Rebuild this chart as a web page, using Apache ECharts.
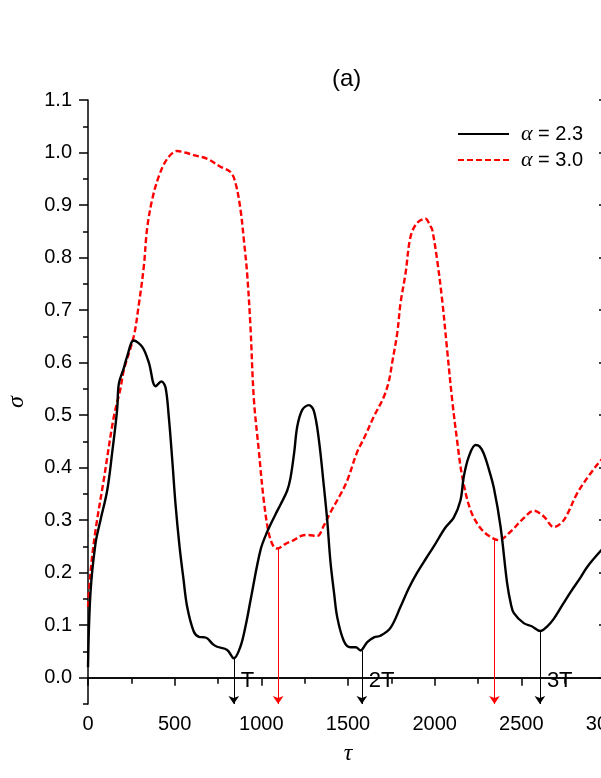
<!DOCTYPE html>
<html>
<head>
<meta charset="utf-8">
<script src="https://cdn.jsdelivr.net/npm/echarts@6/dist/echarts.min.js"></script>
<style>
  html, body { margin: 0; padding: 0; background: #fff; }
  #main { width: 601px; height: 778px; }
</style>
</head>
<body>
<div id="main"></div>
<script>
// alpha = 2.3 (black solid)
var tauA = [0, 14, 43, 72, 111, 140, 168, 178, 207, 226, 264, 313, 351, 390, 424, 447, 466, 486, 505, 528,
  550, 572, 610, 640, 668, 688, 720, 745, 803, 841, 880, 910, 938, 995, 1034, 1080, 1111, 1149, 1168, 1190,
  1207, 1236, 1274, 1303, 1332, 1361, 1380, 1399, 1420, 1438, 1476, 1514, 1545, 1572, 1611, 1650, 1687, 1745,
  1803, 1850, 1899, 1950, 1995, 2060, 2110, 2149, 2168, 2197, 2236, 2260, 2283, 2310, 2341, 2380, 2418, 2440,
  2457, 2514, 2560, 2610, 2650, 2687, 2740, 2784, 2840, 2880, 2962, 3000];
var sigmaA = [0.02, 0.16, 0.255, 0.30, 0.357, 0.43, 0.51, 0.56, 0.59, 0.612, 0.642, 0.63, 0.60, 0.555, 0.564,
  0.553, 0.497, 0.415, 0.33, 0.25, 0.19, 0.135, 0.088, 0.078, 0.077, 0.075, 0.064, 0.059, 0.053, 0.037, 0.06,
  0.10, 0.148, 0.243, 0.278, 0.31, 0.33, 0.356, 0.38, 0.43, 0.478, 0.51, 0.519, 0.508, 0.453, 0.364, 0.30,
  0.22, 0.16, 0.115, 0.07, 0.058, 0.058, 0.052, 0.068, 0.077, 0.08, 0.095, 0.135, 0.17, 0.20, 0.227, 0.25,
  0.285, 0.305, 0.338, 0.383, 0.421, 0.443, 0.44, 0.427, 0.40, 0.362, 0.288, 0.18, 0.14, 0.123, 0.104, 0.098,
  0.089, 0.098, 0.112, 0.14, 0.163, 0.19, 0.211, 0.243, 0.255];

// alpha = 3.0 (red dashed)
var tauB = [0, 14, 43, 91, 149, 187, 207, 264, 293, 322, 341, 370, 409, 457, 515, 560, 610, 688, 764, 822,
  851, 880, 899, 918, 937, 957, 985, 1014, 1043, 1070, 1091, 1140, 1187, 1230, 1264, 1322, 1361, 1399, 1450,
  1495, 1553, 1591, 1649, 1707, 1736, 1755, 1784, 1803, 1832, 1861, 1899, 1947, 1975, 1986, 2014, 2043, 2072,
  2101, 2130, 2159, 2207, 2264, 2322, 2370, 2437, 2514, 2572, 2630, 2687, 2745, 2822, 2899, 2962, 3000];
var sigmaB = [0.135, 0.20, 0.28, 0.377, 0.497, 0.55, 0.586, 0.65, 0.71, 0.783, 0.855, 0.91, 0.955, 0.988,
  1.003, 1.0, 0.995, 0.988, 0.973, 0.963, 0.942, 0.891, 0.834, 0.77, 0.67, 0.53, 0.434, 0.338, 0.275, 0.25,
  0.246, 0.255, 0.262, 0.27, 0.272, 0.27, 0.29, 0.315, 0.345, 0.375, 0.43, 0.455, 0.497, 0.535, 0.565, 0.60,
  0.656, 0.713, 0.77, 0.84, 0.866, 0.874, 0.86, 0.853, 0.796, 0.72, 0.624, 0.529, 0.45, 0.383, 0.319, 0.285,
  0.268, 0.262, 0.278, 0.304, 0.318, 0.307, 0.287, 0.30, 0.351, 0.389, 0.415, 0.425];

// arrows (period marks)
var markTauA = [841, 1580, 2607];
var markSigmaA = [0.037, 0.052, 0.089];
var markNames = ['T', '2T', '3T'];
var markTauB = [1097, 2345];
var markSigmaB = [0.246, 0.262];

var yMajor = [0, 0.1, 0.2, 0.3, 0.4, 0.5, 0.6, 0.7, 0.8, 0.9, 1.0, 1.1];

function pairs(xs, ys) {
  return xs.map(function (x, i) { return [x, ys[i]]; });
}

function arrows(xs, ys) {
  return xs.map(function (x, i) {
    return [{ coord: [x, ys[i]] }, { coord: [x, -0.05] }];
  });
}

var font = 'Liberation Sans, Arial, sans-serif';
var serif = 'Liberation Serif, Times New Roman, serif';

var chart = echarts.init(document.getElementById('main'), null, { renderer: 'canvas' });

var option = {
  backgroundColor: '#ffffff',
  animation: false,
  title: {
    text: '(a)',
    left: 327,
    top: 62,
    textStyle: { fontFamily: font, fontSize: 24, fontWeight: 'normal', color: '#000' }
  },
  legend: {
    orient: 'vertical',
    left: 457,
    top: 123,
    padding: 0,
    itemWidth: 51,
    itemHeight: 10,
    itemGap: 4,
    itemStyle: { opacity: 0 },
    data: ['α = 2.3', 'α = 3.0'],
    formatter: function (n) { return n.replace('α', '{a|α}'); },
    textStyle: {
      fontFamily: font,
      fontSize: 20,
      color: '#000',
      padding: [0, 0, 0, 7],
      rich: {
        a: { fontFamily: serif, fontStyle: 'italic', fontSize: 22, color: '#000' }
      }
    }
  },
  grid: {
    left: 88,
    right: -7,
    top: 100,
    bottom: 74,
    containLabel: false,
    outerBoundsMode: 'none'
  },
  xAxis: [
    {
      type: 'value',
      position: 'bottom',
      min: 0,
      max: 3000,
      interval: 500,
      name: 'τ',
      nameLocation: 'middle',
      nameGap: 38,
      nameTextStyle: { fontFamily: serif, fontStyle: 'italic', fontSize: 24, color: '#000' },
      axisLine: { lineStyle: { color: '#000', width: 1.5 } },
      axisTick: { length: 7, lineStyle: { color: '#000', width: 1.5 } },
      minorTick: { show: true, splitNumber: 2, length: 6, lineStyle: { color: '#000', width: 1.5 } },
      axisLabel: {
        fontFamily: font, fontSize: 20, color: '#000', margin: 10,
        formatter: function (v) { return String(v); }
      },
      splitLine: { show: false }
    },
    {
      type: 'value',
      position: 'top',
      min: 0,
      max: 3000,
      interval: 500,
      axisLine: { lineStyle: { color: '#000', width: 1.5 } },
      axisTick: { inside: true, length: 8, lineStyle: { color: '#000', width: 1.5 } },
      minorTick: { show: true, splitNumber: 2, length: 5, lineStyle: { color: '#000', width: 1.5 } },
      axisLabel: { show: false },
      splitLine: { show: false }
    }
  ],
  yAxis: [
    {
      type: 'value',
      position: 'left',
      min: -0.05,
      max: 1.1,
      interval: 0.05,
      name: 'σ',
      nameLocation: 'middle',
      nameGap: 59,
      nameTextStyle: { fontFamily: serif, fontStyle: 'italic', fontSize: 24, color: '#000' },
      axisLine: { lineStyle: { color: '#000', width: 1.5 } },
      axisTick: { customValues: yMajor, length: 9, lineStyle: { color: '#000', width: 1.5 } },
      axisLabel: {
        customValues: yMajor,
        fontFamily: font, fontSize: 20, color: '#000', margin: 16,
        formatter: function (v) { return v.toFixed(1); }
      },
      splitLine: { show: false }
    },
    {
      type: 'value',
      position: 'left',
      min: -0.05,
      max: 1.1,
      interval: 0.1,
      axisLine: { show: false },
      axisTick: { length: 5, lineStyle: { color: '#000', width: 1.5 } },
      axisLabel: { show: false },
      splitLine: { show: false }
    },
    {
      type: 'value',
      position: 'right',
      min: -0.05,
      max: 1.1,
      interval: 0.05,
      axisLine: { lineStyle: { color: '#000', width: 1.5 } },
      axisTick: { inside: true, customValues: yMajor, length: 9, lineStyle: { color: '#000', width: 1.5 } },
      axisLabel: { show: false },
      splitLine: { show: false }
    }
  ],
  series: [
    {
      name: 'α = 2.3',
      type: 'line',
      xAxisIndex: 0,
      yAxisIndex: 0,
      data: pairs(tauA, sigmaA),
      symbol: 'none',
      smooth: 0.35,
      lineStyle: { color: '#000', width: 2.4 },
      itemStyle: { color: '#000' },
      markLine: {
        silent: true,
        symbol: ['none', 'arrow'],
        symbolSize: 8,
        label: { show: false },
        lineStyle: { color: '#000', width: 1, type: 'solid' },
        data: arrows(markTauA, markSigmaA)
      },
      markPoint: {
        silent: true,
        symbol: 'circle',
        symbolSize: 0,
        label: {
          show: true,
          position: 'right',
          distance: 7,
          formatter: '{b}',
          fontFamily: font,
          fontSize: 22,
          color: '#000'
        },
        data: markTauA.map(function (x, i) {
          return { name: markNames[i], coord: [x, -0.006] };
        })
      },
      z: 3
    },
    {
      name: 'α = 3.0',
      type: 'line',
      xAxisIndex: 0,
      yAxisIndex: 0,
      data: pairs(tauB, sigmaB),
      symbol: 'none',
      smooth: 0.35,
      lineStyle: { color: '#ff0000', width: 2.4, type: [6, 3] },
      itemStyle: { color: '#ff0000' },
      markLine: {
        silent: true,
        symbol: ['none', 'arrow'],
        symbolSize: 8,
        label: { show: false },
        lineStyle: { color: '#ff0000', width: 1, type: 'solid' },
        data: arrows(markTauB, markSigmaB)
      },
      z: 2
    }
  ]
};

chart.setOption(option);
</script>
</body>
</html>
